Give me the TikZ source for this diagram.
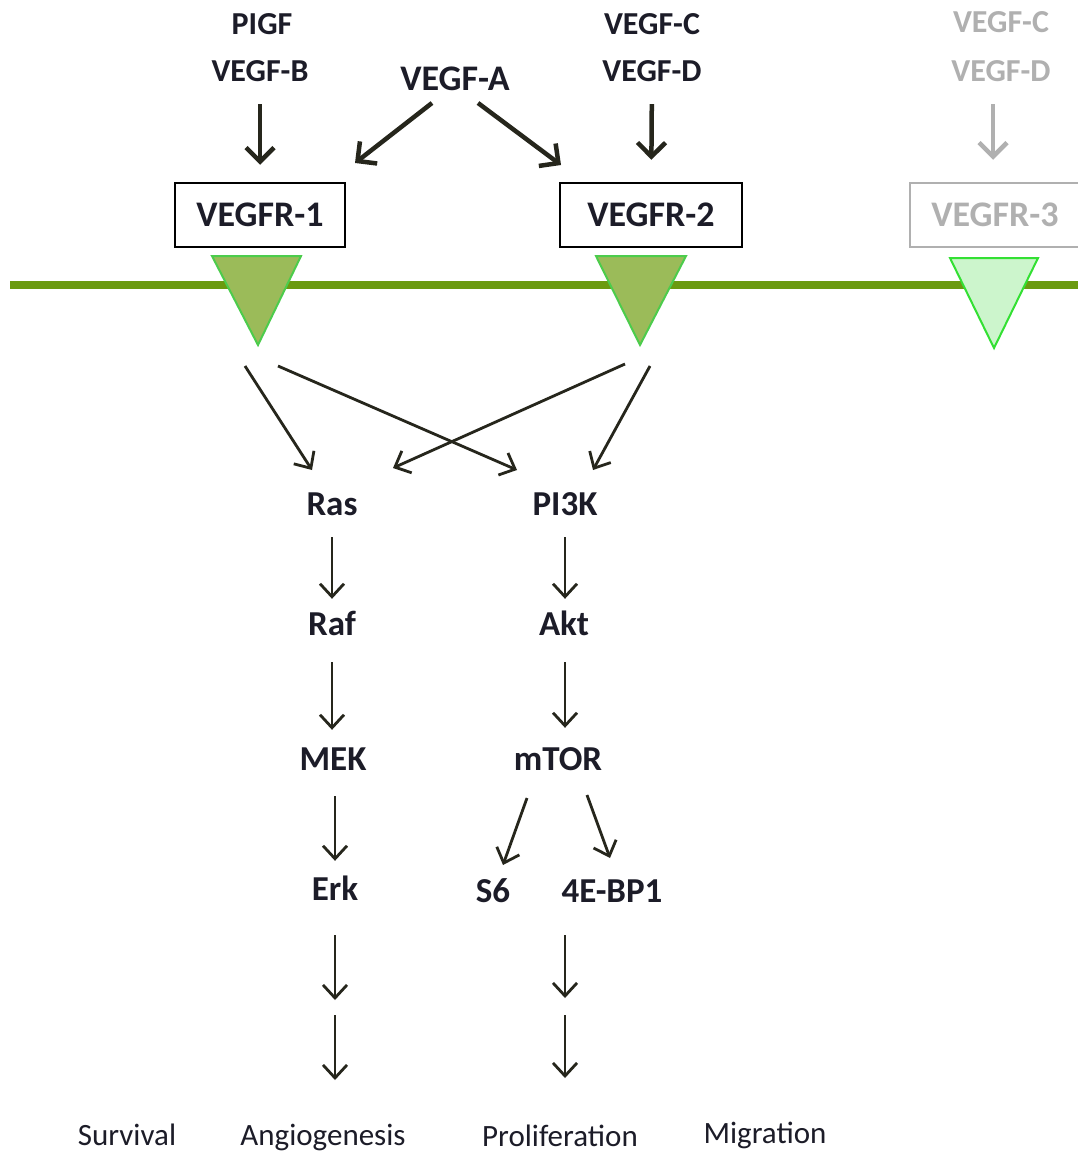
\documentclass[tikz,border=0pt]{standalone}
\usepackage{fontspec}
\setmainfont{Carlito}
\usetikzlibrary{arrows.meta}

\definecolor{ink}{HTML}{1C1C28}
\definecolor{arrowink}{HTML}{26261C}
\definecolor{faded}{HTML}{B0B0B0}
\definecolor{membrane}{HTML}{6B9A10}
\definecolor{rfill}{HTML}{9BBB59}
\definecolor{redge}{HTML}{4CCC4C}
\definecolor{r3fill}{HTML}{CCF5CC}
\definecolor{r3edge}{HTML}{33E033}

\tikzset{
  lbl/.style={inner sep=0pt, text height=20pt, text depth=5pt, anchor=base, text=ink},
  ligand/.style={lbl, font=\fontsize{32}{34}\selectfont\bfseries},
  bigligand/.style={lbl, font=\fontsize{36}{38}\selectfont\bfseries},
  molecule/.style={lbl, font=\fontsize{35}{37}\selectfont\bfseries},
  outcome/.style={lbl, font=\fontsize{31}{33}\selectfont},
  receptor/.style={draw=black, line width=2.5pt, minimum height=64pt, inner sep=0pt,
    text=ink, font=\fontsize{36}{38}\selectfont\bfseries},
  thickarrow/.style={draw=arrowink, line width=4.5pt,
    -{Straight Barb[length=14pt, width=28pt, line width=4.5pt]}},
  thinarrow/.style={draw=arrowink, line width=2.8pt,
    -{Straight Barb[length=13pt, width=24pt, line width=2.8pt]}},
  kinase/.style={line width=2pt, line join=miter}
}

\begin{document}
\begin{tikzpicture}[x=1pt, y=-1pt]
\clip (0,0) rectangle (1078,1153);
\fill[white] (0,0) rectangle (1078,1153);

% ligands
\node[ligand] (pigf)  at (262,35) {PIGF};
\node[ligand] (vegfb) at (260,82) {VEGF-B};
\node[bigligand] (vegfa) at (455,91) {VEGF-A};
\node[ligand] (vegfc) at (652,35) {VEGF-C};
\node[ligand] (vegfd) at (652,82) {VEGF-D};
\node[ligand, text=faded] (vegfc3) at (1001,33) {VEGF-C};
\node[ligand, text=faded] (vegfd3) at (1001,82) {VEGF-D};

% receptors
\node[receptor, minimum width=170pt] (r1) at (260,215) {VEGFR-1};
\node[receptor, minimum width=182pt] (r2) at (651,215) {VEGFR-2};
\node[receptor, minimum width=170pt, draw=faded, text=faded] (r3) at (995,215) {VEGFR-3};

% ligand binding
\draw[thickarrow, shorten <=17pt, shorten >=17pt] (vegfb) -- (r1);
\draw[thickarrow, shorten <=17pt, shorten >=22pt] (vegfd) -- (r2);
\draw[thickarrow, draw=faded, shorten <=17pt, shorten >=22pt] ([xshift=-8pt]vegfd3.south) -- ([xshift=-2pt]r3.north);
\coordinate (a1s) at (432,103);
\coordinate (a1e) at (355,163);
\coordinate (a2s) at (478,103);
\coordinate (a2e) at (561,165);
\draw[thickarrow] (a1s) -- (a1e);
\draw[thickarrow] (a2s) -- (a2e);

% cell membrane
\draw[membrane, line width=8pt] (10,285) -- (1090,285);

% kinase domains
\draw[kinase, fill=rfill, draw=redge] (212,256) -- (301,256) -- (258,345) -- cycle;
\draw[kinase, fill=rfill, draw=redge] (596,256) -- (686,256) -- (640,345) -- cycle;
\draw[kinase, fill=r3fill, draw=r3edge] (950,258) -- (1038,258) -- (994,348) -- cycle;

% pathway molecules
\node[molecule] (ras)  at (332,515) {Ras};
\node[molecule] (raf)  at (332,635) {Raf};
\node[molecule] (mek)  at (333,770) {MEK};
\node[molecule] (erk)  at (335,900) {Erk};
\node[molecule] (pi3k) at (565,515) {PI3K};
\node[molecule] (akt)  at (564,635) {Akt};
\node[molecule] (mtor) at (558,770) {mTOR};
\node[molecule] (s6)   at (493,902) {S6};
\node[molecule] (ebp)  at (612,902) {4E-BP1};

% receptor signalling
\coordinate (k1a) at (245,366);
\coordinate (k1b) at (278,366);
\coordinate (k2a) at (625,364);
\coordinate (k2b) at (650,366);
\coordinate (rasl) at (312,470);
\coordinate (rasr) at (393,468);
\coordinate (pil)  at (517,470);
\coordinate (pir)  at (593,470);
\draw[thinarrow] (k1a) -- (rasl);
\draw[thinarrow] (k1b) -- (pil);
\draw[thinarrow] (k2a) -- (rasr);
\draw[thinarrow] (k2b) -- (pir);

% MAPK cascade
\draw[thinarrow, shorten <=17pt, shorten >=16pt] (ras) -- (raf);
\draw[thinarrow, shorten <=22pt, shorten >=20pt] (raf.south) -- ([xshift=-1pt]mek.north);
\draw[thinarrow, shorten <=21pt, shorten >=19pt] ([xshift=2pt]mek.south) -- (erk.north);

% PI3K cascade
\draw[thinarrow, shorten <=17pt, shorten >=16pt] (pi3k) -- ([xshift=1pt]akt.north);
\draw[thinarrow, shorten <=22pt, shorten >=22pt] ([xshift=1pt]akt.south) -- ([xshift=7pt]mtor.north);
\coordinate (m1s) at (527,798);
\coordinate (m1e) at (503,865);
\coordinate (m2s) at (587,795);
\coordinate (m2e) at (610,858);
\draw[thinarrow] (m1s) -- (m1e);
\draw[thinarrow] (m2s) -- (m2e);

% downstream effects
\coordinate (d1) at (335,935);
\coordinate (d2) at (335,1000);
\coordinate (d3) at (335,1015);
\coordinate (d4) at (335,1080);
\coordinate (d5) at (565,935);
\coordinate (d6) at (565,998);
\coordinate (d7) at (565,1015);
\coordinate (d8) at (565,1078);
\draw[thinarrow] (d1) -- (d2);
\draw[thinarrow] (d3) -- (d4);
\draw[thinarrow] (d5) -- (d6);
\draw[thinarrow] (d7) -- (d8);

% outcomes
\node[outcome] (surv)  at (127,1145) {Survival};
\node[outcome] (angio) at (323,1145) {Angiogenesis};
\node[outcome] (prol)  at (560,1146) {Proliferation};
\node[outcome] (migr)  at (765,1143) {Migration};
\end{tikzpicture}
\end{document}
